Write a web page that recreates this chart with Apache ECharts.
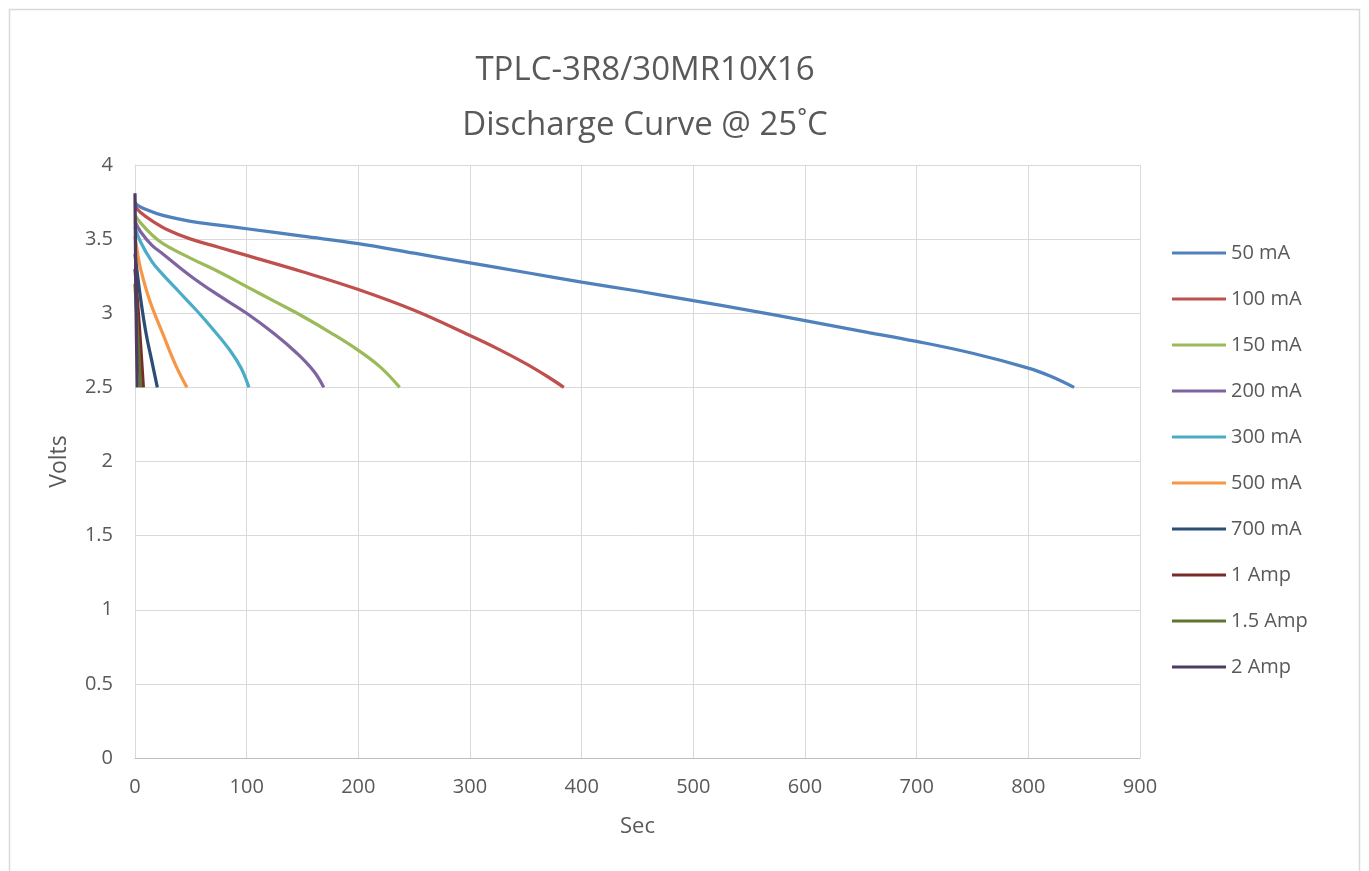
<!DOCTYPE html>
<html>
<head>
<meta charset="utf-8">
<script src="https://cdn.jsdelivr.net/npm/echarts@6/dist/echarts.min.js"></script>
<style>html,body{margin:0;padding:0;background:#fff}#c{width:1369px;height:871px}</style>
</head>
<body>
<div id="c"></div>
<script>
var seriesNames = ['50 mA','100 mA','150 mA','200 mA','300 mA','500 mA','700 mA','1 Amp','1.5 Amp','2 Amp'];
var colors = ['#4F81BD','#C0504D','#9BBB59','#8064A2','#4BACC6','#F79646','#2C4D75','#772C2A','#5F7530','#4D3B62'];
var xTicks = [0,100,200,300,400,500,600,700,800,900];
var yTicks = [0,0.5,1,1.5,2,2.5,3,3.5,4];

var d50mA = [[0,3.75],[2,3.73],[10,3.70],[25,3.66],[50,3.62],[75,3.595],[100,3.57],[150,3.52],[200,3.47],[250,3.405],[300,3.34],[350,3.275],[400,3.21],[450,3.15],[500,3.085],[550,3.02],[600,2.95],[650,2.88],[700,2.81],[750,2.73],[800,2.63],[820,2.575],[841,2.5]];
var d100mA = [[0,3.72],[5,3.68],[15,3.625],[30,3.56],[50,3.50],[75,3.445],[100,3.39],[150,3.28],[200,3.16],[250,3.02],[300,2.85],[325,2.76],[350,2.66],[370,2.57],[384,2.5]];
var d150mA = [[0,3.66],[5,3.61],[15,3.53],[25,3.47],[50,3.37],[75,3.28],[100,3.18],[125,3.08],[150,2.98],[175,2.87],[200,2.75],[220,2.635],[237,2.5]];
var d200mA = [[0,3.62],[5,3.55],[15,3.46],[25,3.40],[50,3.25],[75,3.12],[100,3.0],[125,2.86],[145,2.73],[160,2.61],[169,2.5]];
var d300mA = [[0,3.58],[5,3.48],[15,3.35],[25,3.26],[40,3.14],[55,3.02],[70,2.89],[85,2.75],[95,2.63],[102,2.5]];
var d500mA = [[0,3.52],[2,3.42],[5,3.30],[13,3.09],[25,2.86],[37,2.64],[46.5,2.5]];
var d700mA = [[0,3.4],[5,3.1],[10,2.86],[15,2.68],[20,2.5]];
var d1A = [[0,3.3],[4,2.9],[7.5,2.5]];
var d15A = [[0,3.2],[2.5,2.85],[5,2.5]];
var d2A = [[0,3.81],[1,3.0],[2,2.5]];
var allData = [d50mA,d100mA,d150mA,d200mA,d300mA,d500mA,d700mA,d1A,d15A,d2A];

var txt = '#595959';
var font = '"Open Sans", sans-serif';
var chart = echarts.init(document.getElementById('c'), null, {renderer:'canvas'});
var series = seriesNames.map(function(n,i){
  return {
    name:n, type:'line', data:allData[i], showSymbol:false, symbol:'none',
    smooth:0.4,
    lineStyle:{color:colors[i], width:3.25}, itemStyle:{color:colors[i]}, z:2+i
  };
});
chart.setOption({
  animation:false,
  backgroundColor:'#fff',
  graphic:[
    {type:'rect', shape:{x:9.5,y:9.5,width:1350,height:870}, style:{fill:'none',stroke:'#d9d9d9',lineWidth:1.5}, silent:true},
    {type:'text', x:645, y:71, style:{text:'TPLC-3R8/30MR10X16', fill:txt, font:'33px '+font, textAlign:'center', textVerticalAlign:'middle'}},
    {type:'text', x:645, y:126, style:{text:'Discharge Curve @ 25˚C', fill:txt, font:'33px '+font, textAlign:'center', textVerticalAlign:'middle'}}
  ],
  grid:{left:135, right:229, top:165, bottom:113, containLabel:false},
  legend:{
    orient:'vertical', left:1167, top:238, data:seriesNames,
    icon:'rect', itemWidth:54, itemHeight:3, itemGap:26,
    textStyle:{color:txt, fontSize:20, fontFamily:font, lineHeight:20, padding:[0,0,0,0]},
    selectedMode:false
  },
  xAxis:{
    type:'value', min:0, max:900, interval:100,
    name:'Sec', nameLocation:'middle', nameGap:58,
    nameTextStyle:{color:txt, fontSize:22, fontFamily:font},
    axisLine:{show:true, lineStyle:{color:'#bfbfbf', width:1}},
    axisTick:{show:false},
    axisLabel:{color:txt, fontSize:20, fontFamily:font, margin:19,
      formatter:function(v){return xTicks.indexOf(v)>=0?String(v):'';}},
    splitLine:{show:true, lineStyle:{color:'#d9d9d9', width:1}}
  },
  yAxis:{
    type:'value', min:0, max:4, interval:0.5,
    name:'Volts', nameLocation:'middle', nameGap:64, nameRotate:90,
    nameTextStyle:{color:txt, fontSize:23, fontFamily:font},
    axisLine:{show:true, lineStyle:{color:'#d9d9d9', width:1}},
    axisTick:{show:false},
    axisLabel:{color:txt, fontSize:20, fontFamily:font, margin:22,
      formatter:function(v){return yTicks.indexOf(v)>=0?String(v):'';}},
    splitLine:{show:true, lineStyle:{color:'#d9d9d9', width:1}}
  },
  series:series
});
</script>
</body>
</html>
